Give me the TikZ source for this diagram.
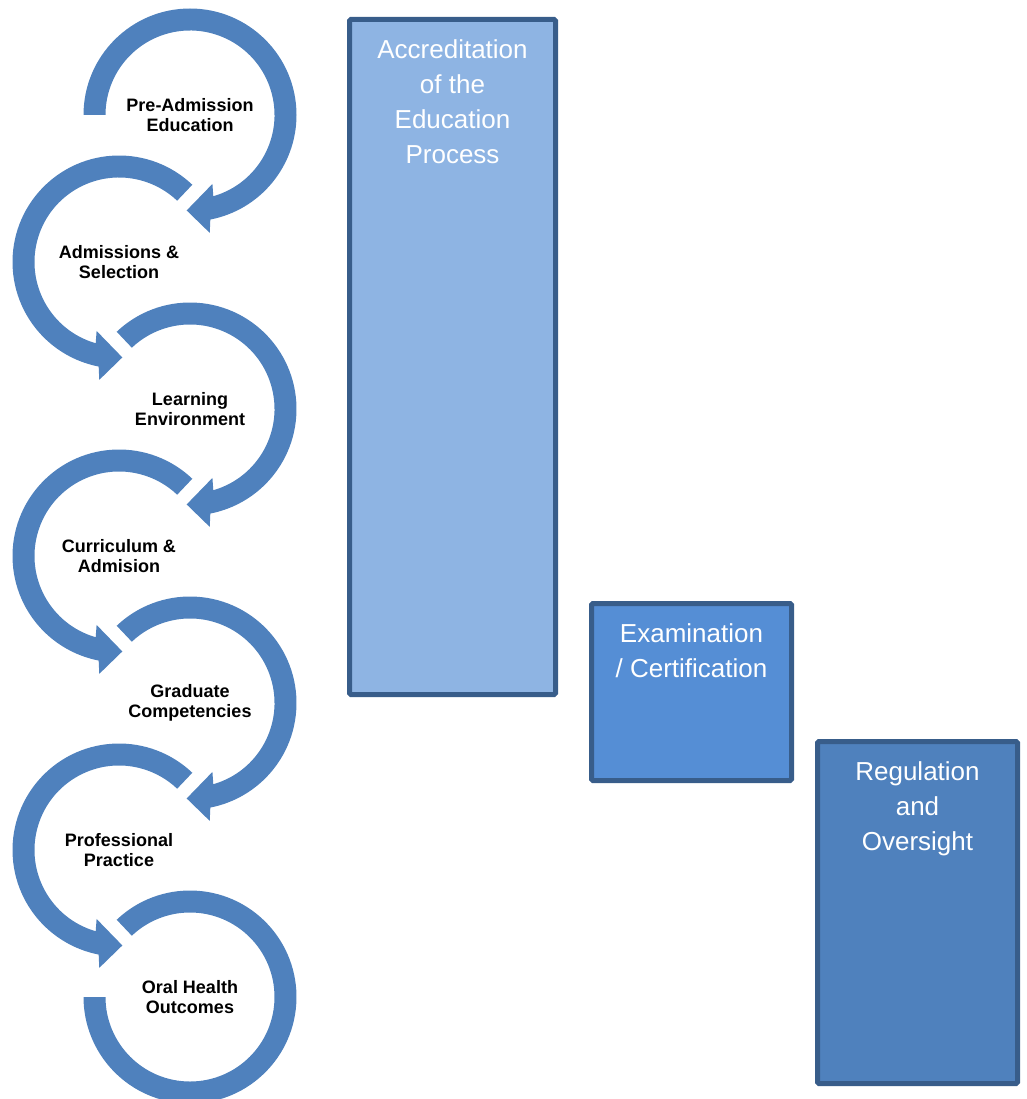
\documentclass[tikz,border=0pt]{standalone}
\usepackage{fontspec}
\setmainfont{Liberation Sans}
\usepackage{tikz}
\usetikzlibrary{positioning}

\definecolor{ringblue}{RGB}{79,129,189}
\definecolor{paneledge}{RGB}{56,93,138}
\definecolor{accfill}{RGB}{142,180,227}
\definecolor{examfill}{RGB}{85,142,213}
\definecolor{regfill}{RGB}{79,129,189}

% clockwise ring around a stage, ending in an arrow head (#1 node, #2 start angle)
\newcommand{\ringcw}[2]{%
  \fill[ring, shift={(#1.center)}] (#2:106.5pt) arc[start angle=#2, end angle=-79, radius=106.5pt]
    -- (-80.5:119.5pt) -- (-92:95.5pt) -- (-72:72.5pt) -- (-74:84.5pt)
    arc[start angle=-74, end angle=#2, radius=84.5pt] -- cycle;}
% same thing, counter clockwise
\newcommand{\ringccw}[2]{%
  \fill[ring, shift={(#1.center)}] (#2:106.5pt) arc[start angle=#2, end angle=259, radius=106.5pt]
    -- (260.5:119.5pt) -- (272:95.5pt) -- (252:72.5pt) -- (254:84.5pt)
    arc[start angle=254, end angle=#2, radius=84.5pt] -- cycle;}

\begin{document}
\begin{tikzpicture}[x=1pt, y=1pt,
    stage/.style = {on grid, align=center, inner sep=0pt, font=\fontsize{18}{20}\selectfont\bfseries},
    ring/.style = {fill=ringblue, draw=none},
    panel/.style = {draw=paneledge, line width=5pt, rounded corners=1.5pt, inner sep=0pt},
    paneltext/.style = {text=white, align=center, inner sep=0pt, anchor=north, font=\fontsize{26}{35.3}\selectfont}]
    \clip (0,0) rectangle (1026,-1099);

    % the stages
    \node[stage] (pre) at (190,-115) {Pre-Admission\\Education};
    \node[stage, below left=147pt and 71pt of pre] (adm) {Admissions \&\\Selection};
    \node[stage, below right=147pt and 71pt of adm] (learn) {Learning\\Environment};
    \node[stage, below left=147pt and 71pt of learn] (curr) {Curriculum \&\\Admision};
    \node[stage, below right=147pt and 71pt of curr] (grad) {Graduate\\Competencies};
    \node[stage, below left=147pt and 71pt of grad] (prof) {Professional\\Practice};
    \node[stage, below right=147pt and 71pt of prof] (oral) {Oral Health\\Outcomes};

    % bent arrows round them
    \ringcw{pre}{180}
    \ringccw{adm}{46.5}
    \ringcw{learn}{133.5}
    \ringccw{curr}{46.5}
    \ringcw{grad}{133.5}
    \ringccw{prof}{46.5}
    \fill[ring, shift={(oral.center)}] (133.5:106.5pt) arc[start angle=133.5, end angle=-180, radius=106.5pt]
        -- (180:84.5pt) arc[start angle=-180, end angle=133.5, radius=84.5pt] -- cycle;

    % the three blocks
    \node[panel, fill=accfill, minimum width=206pt, minimum height=675pt] (accr) at (452.5,-357) {};
    \node[panel, fill=examfill, minimum width=200pt, minimum height=177pt] (exam) at (691.5,-692) {};
    \node[panel, fill=regfill, minimum width=200pt, minimum height=342pt] (reg) at (917.5,-912.5) {};

    \node[paneltext] (accrtext) at ([yshift=-22pt]accr.north) {Accreditation\\of the\\Education\\Process};
    \node[paneltext] (examtext) at ([yshift=-22pt]exam.north) {Examination\\/ Certification};
    \node[paneltext] (regtext) at ([yshift=-22pt]reg.north) {Regulation\\and\\Oversight};
\end{tikzpicture}
\end{document}
